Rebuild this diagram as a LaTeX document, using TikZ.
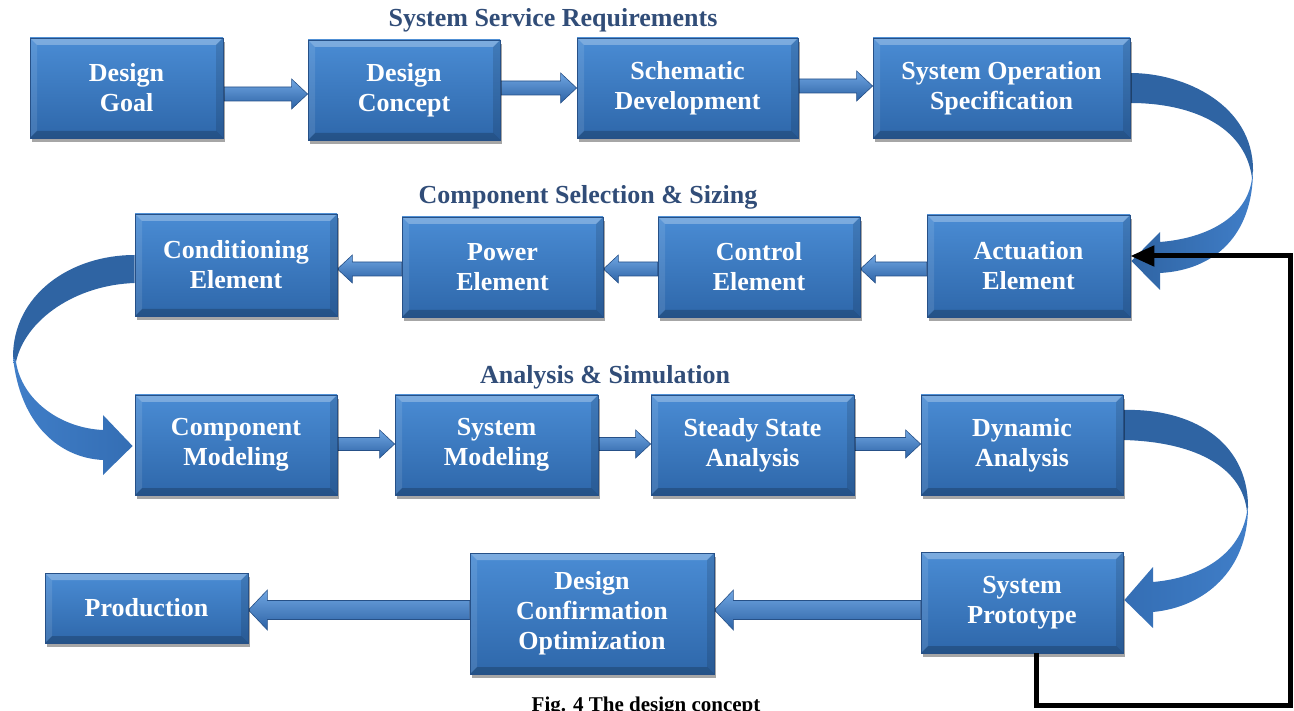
\documentclass[tikz,border=0pt]{standalone}
\usepackage{fontspec}
\setmainfont{Liberation Serif}
\usetikzlibrary{calc,shadows,arrows.meta}
\pgfdeclarelayer{background}
\pgfsetlayers{background,main}

\definecolor{boxtop}{RGB}{74,140,212}
\definecolor{boxbot}{RGB}{46,103,170}
\definecolor{boxline}{RGB}{38,80,135}
\definecolor{arrowtop}{RGB}{112,166,226}
\definecolor{arrowbot}{RGB}{44,98,165}
\definecolor{ribdark}{RGB}{47,100,163}
\definecolor{ribmid}{RGB}{52,110,180}
\definecolor{riblight}{RGB}{64,126,200}
\definecolor{hdrcol}{RGB}{49,77,120}

\newcommand\boxfont{\bfseries\fontsize{26}{30}\selectfont}

% straight block arrow: start point, tip point, shaft half height,
% head half height, head length, style
\newcommand{\barrow}[6]{%
  \path[#6] let \p1=#1, \p2=#2, \n1={ifthenelse(\x2>\x1,1,-1)} in
    ({\x1},{\y1+#3}) -- ({\x2-(\n1)*#5},{\y1+#3}) -- ({\x2-(\n1)*#5},{\y1+#4})
    -- ({\x2},{\y1}) -- ({\x2-(\n1)*#5},{\y1-#4}) -- ({\x2-(\n1)*#5},{\y1-#3})
    -- ({\x1},{\y1-#3}) -- cycle;}

\tikzset{
  box/.style={rectangle, inner sep=0pt, text=white, align=center, font=\boxfont,
    top color=boxtop, bottom color=boxbot, draw=boxline, line width=0.8pt,
    drop shadow={shadow xshift=2pt, shadow yshift=-4pt, opacity=.35, fill=black},
    path picture={
      \coordinate (ppa) at (path picture bounding box.north west);
      \coordinate (ppb) at (path picture bounding box.north east);
      \coordinate (ppc) at (path picture bounding box.south east);
      \coordinate (ppd) at (path picture bounding box.south west);
      \coordinate (ppA) at ([shift={(7pt,-7pt)}]ppa);
      \coordinate (ppB) at ([shift={(-7pt,-7pt)}]ppb);
      \coordinate (ppC) at ([shift={(-7pt,7pt)}]ppc);
      \coordinate (ppD) at ([shift={(7pt,7pt)}]ppd);
      \fill[white,opacity=.28] (ppa) -- (ppb) -- (ppB) -- (ppA) -- cycle;
      \fill[white,opacity=.10] (ppa) -- (ppA) -- (ppD) -- (ppd) -- cycle;
      \fill[black,opacity=.20] (ppd) -- (ppD) -- (ppC) -- (ppc) -- cycle;
      \fill[black,opacity=.12] (ppb) -- (ppc) -- (ppC) -- (ppB) -- cycle;
    }},
  harrow/.style={top color=arrowtop, bottom color=arrowbot, draw=boxline, line width=0.6pt},
  hdr/.style={anchor=base, text=hdrcol, font=\boxfont, inner sep=0pt},
  feedback/.style={draw=black, line width=5pt, line join=miter,
    -{Triangle[length=24pt,width=20pt]}}
}

\begin{document}
\begin{tikzpicture}[x=1pt,y=-1pt]
\useasboundingbox (0,0) rectangle (1294,711);

% section headings
\node[hdr] (h1) at (553,27) {System Service Requirements};
\node[hdr] (h2) at (588,204) {Component Selection \& Sizing};
\node[hdr] (h3) at (605,384) {Analysis \& Simulation};

% row 1
\node[box, minimum width=193pt, minimum height=100pt] (DG) at (126.5,88) {Design\\Goal};
\node[box, minimum width=192pt, minimum height=100pt] (DC) at (404,90) {Design\\Concept};
\node[box, minimum width=221pt, minimum height=100pt] (SD) at (687.5,88) {Schematic\\Development};
\node[box, minimum width=257pt, minimum height=100pt] (SOS) at (1001.5,88) {System Operation\\Specification};

% row 2
\node[box, minimum width=202pt, minimum height=102pt] (CE) at (236,265) {Conditioning\\Element};
\node[box, minimum width=201pt, minimum height=100pt] (PE) at (502.5,267) {Power\\Element};
\node[box, minimum width=202pt, minimum height=100pt] (CtE) at (759,267) {Control\\Element};
\node[box, minimum width=203pt, minimum height=102pt] (AE) at (1028.5,266) {Actuation\\Element};

% row 3
\node[box, minimum width=202pt, minimum height=100pt] (CM) at (236,445) {Component\\Modeling};
\node[box, minimum width=203pt, minimum height=100pt] (SM) at (496.5,445) {System\\Modeling};
\node[box, minimum width=203pt, minimum height=100pt] (SSA) at (752.5,445) {Steady State\\Analysis};
\node[box, minimum width=202pt, minimum height=100pt] (DA) at (1022,445) {Dynamic\\Analysis};

% row 4
\node[box, minimum width=203pt, minimum height=70pt] (PR) at (146.5,608) {Production};
\node[box, minimum width=244pt, minimum height=121pt] (DCO) at (592,613.5) {Design\\Confirmation\\Optimization};
\node[box, minimum width=202pt, minimum height=101pt] (SP) at (1022,602.5) {System\\Prototype};

% caption
\node[anchor=base, inner sep=0pt, font=\bfseries\fontsize{21}{24}\selectfont] (cap)
  at (646,711) {Fig. 4 The design concept};

\begin{pgfonlayer}{background}
  % straight arrows
  \barrow{([yshift=-6pt]DG.east)}{(DC.west)}{7pt}{15pt}{16pt}{harrow}
  \barrow{([yshift=2pt]DC.east)}{(SD.west)}{7pt}{15pt}{16pt}{harrow}
  \barrow{([yshift=2pt]SD.east)}{(SOS.west)}{7pt}{15pt}{16pt}{harrow}
  \barrow{([yshift=-3pt]AE.west)}{(CtE.east)}{7pt}{14pt}{15pt}{harrow}
  \barrow{([yshift=-2pt]CtE.west)}{(PE.east)}{7pt}{14pt}{15pt}{harrow}
  \barrow{([yshift=-2pt]PE.west)}{(CE.east)}{7pt}{14pt}{15pt}{harrow}
  \barrow{([yshift=1pt]CM.east)}{(SM.west)}{6.5pt}{14pt}{15pt}{harrow}
  \barrow{([yshift=1pt]SM.east)}{(SSA.west)}{6.5pt}{14pt}{15pt}{harrow}
  \barrow{([yshift=1pt]SSA.east)}{(DA.west)}{6.5pt}{14pt}{15pt}{harrow}
  \barrow{([yshift=-7.5pt]SP.west)}{(DCO.east)}{9.5pt}{20pt}{19pt}{harrow}
  \barrow{([yshift=3.5pt]DCO.west)}{(PR.east)}{9.5pt}{20pt}{19pt}{harrow}

  % curved ribbon: specification -> actuation
  \fill[ribdark] ($(SOS.east)+(0,-15)$) .. controls (1185,73) and (1253,105) .. (1253,170)
    -- (1252,178) .. controls (1245,125) and (1190,103) .. ($(SOS.east)+(0,15)$) -- cycle;
  \path[left color=ribdark, right color=riblight]
    (1253,170) .. controls (1253,235) and (1215,270) .. (1160,273) -- (1160,290)
    -- ($(AE.east)+(1,-5)$) -- (1160,232) -- (1160,242)
    .. controls (1210,238) and (1248,215) .. (1252,178) -- cycle;

  % curved ribbon: conditioning -> component modeling
  \fill[ribdark] ($(CE.west)+(0,-10)$) .. controls (70,255) and (13,295) .. (13,357)
    -- (16,362) .. controls (25,320) and (75,285) .. ($(CE.west)+(0,18)$) -- cycle;
  \path[left color=riblight, right color=ribmid]
    (13,357) .. controls (20,425) and (60,458) .. (103,460) -- (103,475)
    -- ($(CM.west)+(-2,1)$) -- (103,415) -- (103,430)
    .. controls (60,428) and (22,400) .. (16,362) -- cycle;

  % curved ribbon: dynamic analysis -> prototype
  \fill[ribdark] ($(DA.east)+(0,-35)$) .. controls (1190,408) and (1248,440) .. (1248,507)
    -- (1247,512) .. controls (1243,470) and (1200,442) .. ($(DA.east)+(0,-5)$) -- cycle;
  \path[left color=ribmid, right color=riblight]
    (1248,507) .. controls (1248,570) and (1205,607) .. (1153,612) -- (1153,628)
    -- ($(SP.east)+(1,-2.5)$) -- (1153,567) -- (1153,582)
    .. controls (1200,578) and (1240,555) .. (1247,512) -- cycle;
\end{pgfonlayer}

% feedback loop from prototype back to actuation
\draw[feedback] ([xshift=14pt]SP.south) |- (1290,705) |- ([yshift=10pt]AE.east);
\end{tikzpicture}
\end{document}
